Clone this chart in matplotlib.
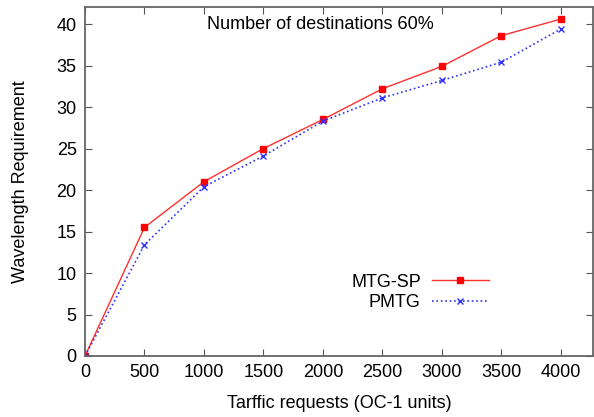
import matplotlib
matplotlib.use('Agg')
import matplotlib.pyplot as plt

plt.rcParams['font.family'] = ['Liberation Sans', 'DejaVu Sans']

# 数据
traffic = [0, 500, 1000, 1500, 2000, 2500, 3000, 3500, 4000]
mtg_sp = [0, 15.5, 21.0, 25.0, 28.5, 32.2, 34.9, 38.6, 40.6]
pmtg = [0, 13.4, 20.4, 24.1, 28.3, 31.1, 33.2, 35.4, 39.4]

fs = 13
fig = plt.figure(figsize=(5.94, 4.17), dpi=100)
ax = fig.add_axes([85/594, 61/417, (593-85)/594, (356-7)/417])

ax.plot(traffic, mtg_sp, '-', color='#ff3030', lw=1.0, marker='s', ms=4.5,
        mfc='red', mec='red', label='MTG-SP')
ax.plot(traffic, pmtg, ':', color='#3030ff', lw=1.2, marker='x', ms=5,
        mew=1.0, label='PMTG')

ax.set_xlim(0, 4270)
ax.set_ylim(0, 42.05)
ax.set_xticks(traffic)
ax.set_yticks(range(0, 41, 5))
ax.tick_params(direction='in', length=5, color='#555555', labelsize=fs,
               top=True, right=True, pad=6)
for s in ax.spines.values():
    s.set_color('#666666')
    s.set_linewidth(1.3)

ax.set_xlabel('Tarffic requests (OC-1 units)', fontsize=fs, labelpad=10)
ax.set_ylabel('Wavelength Requirement', fontsize=fs, labelpad=20)
ax.text(0.463, 0.975, 'Number of destinations 60%', transform=ax.transAxes,
        ha='center', va='top', fontsize=fs)

leg = ax.legend(loc='lower right', bbox_to_anchor=(0.828, 0.082), frameon=False,
                fontsize=fs, markerfirst=False, handlelength=3.2,
                labelspacing=0.2, handletextpad=0.6)
for t in leg.get_texts():
    t.set_ha('right')

fig.savefig('out.png', dpi=100)
